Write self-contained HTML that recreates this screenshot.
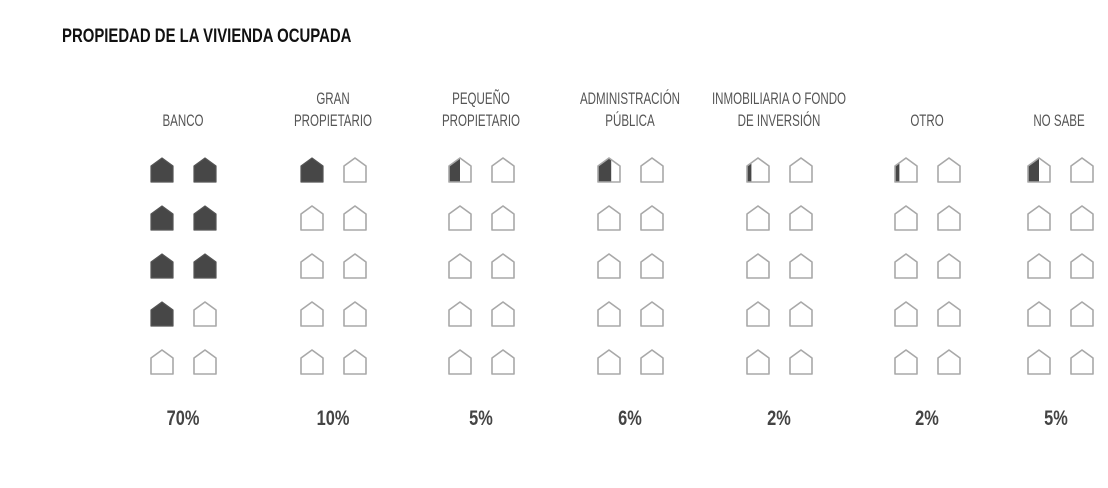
<!DOCTYPE html>
<html><head><meta charset="utf-8"><style>
body{margin:0;background:#fff;width:1108px;height:483px;overflow:hidden}
svg text{font-family:"Liberation Sans",sans-serif}
</style></head><body>
<svg id="s" width="1108" height="483" viewBox="0 0 1108 483">
<text transform="translate(62,42) scale(0.785,1)" font-size="19" font-weight="bold" fill="#111">PROPIEDAD DE LA VIVIENDA OCUPADA</text>
</svg>
<script>
var svg=document.getElementById('s'),s='';
function T(x,y,t,size,col,w,sx){s+='<text transform="translate('+x+','+y+') scale('+sx+',1)" text-anchor="middle" font-size="'+size+'" fill="'+col+'" font-weight="'+w+'">'+t+'</text>';}
var labels=[[183,[,"BANCO"]],[333,["GRAN","PROPIETARIO"]],[481,["PEQUEÑO","PROPIETARIO"]],[630,["ADMINISTRACIÓN","PÚBLICA"]],[779,["INMOBILIARIA O FONDO","DE INVERSIÓN"]],[927,[,"OTRO"]],[1059,[,"NO SABE"]]];
labels.forEach(function(l){if(l[1][0])T(l[0],104,l[1][0],17,'#555','normal',0.68);T(l[0],126,l[1][1],17,'#555','normal',0.68);});
var pc=[[183,"70%"],[333,"10%"],[481,"5%"],[630,"6%"],[779,"2%"],[927,"2%"],[1056,"5%"]];
pc.forEach(function(p){T(p[0],425,p[1],21,'#444','bold',0.78);});
var cols=[150,300,448,597,746,894,1027];
var fills=[7,1,0.5,0.6,0.2,0.2,0.5];
var rows=[157,205,253,301,349];
cols.forEach(function(cx,ci){
 var n=fills[ci],k=0;
 rows.forEach(function(ry){
  [0,43].forEach(function(dx){
   var x=cx+dx,y=ry,v=Math.max(0,Math.min(1,n-k));k++;
   function P(a,b){return (x+a)+','+(y+b);}
   if(v>=1){s+='<polygon points="'+[P(1,9),P(12,1),P(23,9),P(23,25),P(1,25)].join(' ')+'" fill="#474747" stroke="#555" stroke-width="1.2" stroke-linejoin="round"/>';}
   else{
    if(v>0){var xr=1+22*v,pts;
     if(xr<=12)pts=[P(1,25),P(1,9),P(xr,9-(xr-1)*8/11),P(xr,25)];
     else pts=[P(1,25),P(1,9),P(12,1),P(xr,1+(xr-12)*8/11),P(xr,25)];
     s+='<polygon points="'+pts.join(' ')+'" fill="#474747"/>';}
    s+='<polygon points="'+[P(1,9),P(12,1),P(23,9),P(23,25),P(1,25)].join(' ')+'" fill="none" stroke="#a8a8a8" stroke-width="1.6" stroke-linejoin="round"/>';
   }
  });
 });
});
svg.insertAdjacentHTML('beforeend',s);
</script>
</body></html>
